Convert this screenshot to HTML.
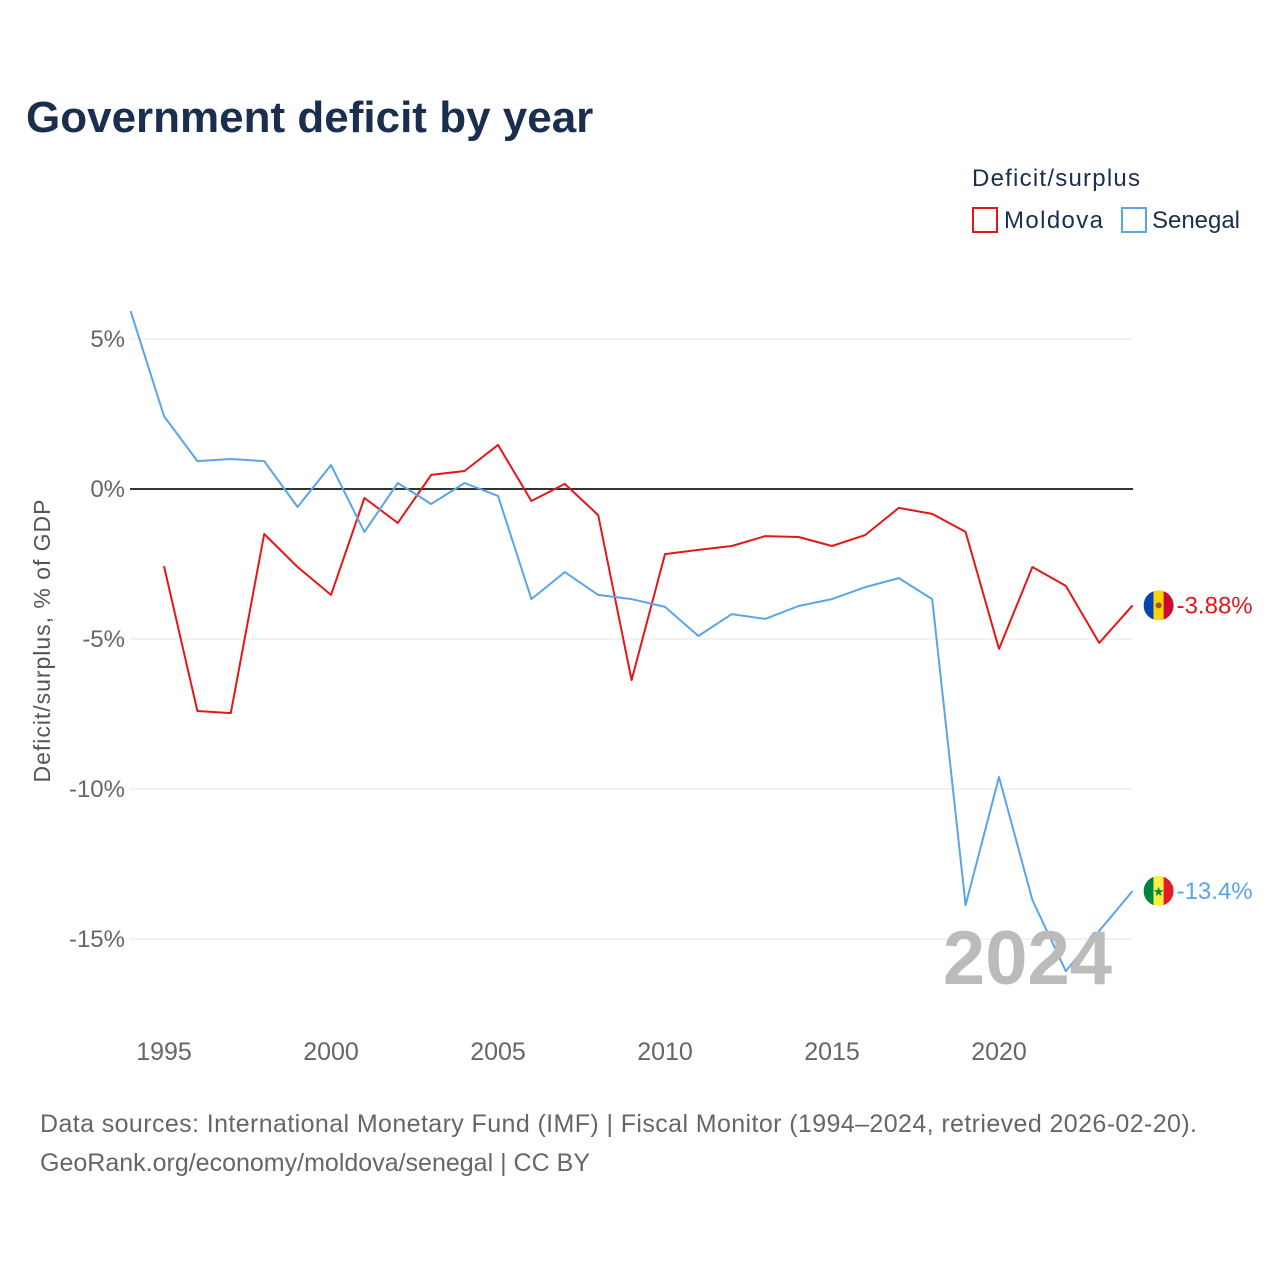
<!DOCTYPE html>
<html><head><meta charset="utf-8"><style>
body{margin:0;background:#fff;font-family:"Liberation Sans",sans-serif}
svg text{font-family:"Liberation Sans",sans-serif}
</style></head><body>
<svg id="chart" width="1280" height="1280">
<text x="26" y="132" font-size="44" font-weight="bold" fill="#1a2e4f">Government deficit by year</text>
<text x="972" y="186" font-size="24" fill="#1a2e4f" textLength="168">Deficit/surplus</text>
<g><rect x="973" y="208" width="24" height="24" fill="none" stroke="#e51616" stroke-width="2"/><text x="1004" y="228" font-size="24" fill="#1a2e4f" textLength="99">Moldova</text></g>
<g><rect x="1122" y="208" width="24" height="24" fill="none" stroke="#5aa5ea" stroke-width="2"/><text x="1152" y="228" font-size="24" fill="#1a2e4f" textLength="88">Senegal</text></g>
<text transform="translate(50,641) rotate(-90)" text-anchor="middle" font-size="23" fill="#555" textLength="283">Deficit/surplus, % of GDP</text>
<g id="grid"></g><g id="lines"></g>
<text x="1112" y="984" text-anchor="end" font-size="76" font-weight="bold" fill="#bbb">2024</text>
<text x="40" y="1132" font-size="25" fill="#666" textLength="1157">Data sources: International Monetary Fund (IMF) | Fiscal Monitor (1994–2024, retrieved 2026-02-20).</text>
<text x="40" y="1171" font-size="25" fill="#666" textLength="550">GeoRank.org/economy/moldova/senegal | CC BY</text>
</svg>
<script>
const yTicks=[5,0,-5,-10,-15];
const xTicks=[1995,2000,2005,2010,2015,2020];
const moldovaYears=[1995,1996,1997,1998,1999,2000,2001,2002,2003,2004,2005,2006,2007,2008,2009,2010,2011,2012,2013,2014,2015,2016,2017,2018,2019,2020,2021,2022,2023,2024];
const moldova=[-2.57,-7.4,-7.47,-1.5,-2.6,-3.53,-0.3,-1.13,0.47,0.6,1.47,-0.4,0.17,-0.87,-6.37,-2.17,-2.03,-1.9,-1.57,-1.6,-1.9,-1.53,-0.63,-0.83,-1.43,-5.33,-2.6,-3.23,-5.13,-3.88];
const senegalYears=[1994,1995,1996,1997,1998,1999,2000,2001,2002,2003,2004,2005,2006,2007,2008,2009,2010,2011,2012,2013,2014,2015,2016,2017,2018,2019,2020,2021,2022,2023,2024];
const senegal=[5.93,2.43,0.93,1.0,0.93,-0.6,0.8,-1.43,0.2,-0.5,0.2,-0.23,-3.67,-2.77,-3.53,-3.67,-3.93,-4.9,-4.17,-4.33,-3.9,-3.67,-3.27,-2.97,-3.67,-13.87,-9.6,-13.7,-16.07,-14.73,-13.4];
const X=y=>130.6+(y-1994)*33.4, Y=v=>489-v*30;
const NS='http://www.w3.org/2000/svg';
function mk(p,t,a){const e=document.createElementNS(NS,t);for(const k in a)e.setAttribute(k,a[k]);p.appendChild(e);return e;}
const g=document.getElementById('grid'), L=document.getElementById('lines');
yTicks.forEach(v=>{
 const l=mk(g,'line',{x1:130,x2:1133,y1:Y(v),y2:Y(v),stroke:v===0?'#333':'#e6e6e6','stroke-width':v===0?2:1});
 
 
 const t=mk(g,'text',{x:125,y:Y(v)+8,'text-anchor':'end','font-size':24,fill:'#666'});t.textContent=v+'%';
 
 
});
xTicks.forEach(y=>{
 const t=mk(g,'text',{x:X(y),y:1060,'text-anchor':'middle','font-size':25,fill:'#666'});t.textContent=y;
 
 
});
function series(yrs,vals,col,name){
 const p=mk(L,'polyline',{points:yrs.map((y,i)=>X(y)+','+Y(vals[i])).join(' '),fill:'none',stroke:col,'stroke-width':2,'stroke-linejoin':'round'});
 
 
 const v=vals[vals.length-1], cy=Y(v), cx=X(yrs[yrs.length-1])+25;
 const t=mk(L,'text',{x:cx+19,y:cy+8,'font-size':24,fill:col});t.textContent=(Math.abs(v)>=10?v.toFixed(1):v.toFixed(2))+'%';
 
 
 return [cx,cy];
}
function flag(cx,cy,cols,name,star){
 const gg=mk(L,'g',{});
 
 
 const id='c'+name;const cp=mk(gg,'clipPath',{id});mk(cp,'circle',{cx,cy,r:15});
 cols.forEach((c,i)=>mk(gg,'rect',{x:cx-15+i*10,y:cy-15,width:10,height:30,fill:c,'clip-path':'url(#'+id+')'}));
 if(star)mk(gg,'text',{x:cx,y:cy+5,'text-anchor':'middle','font-size':13,fill:'#00853f'}).textContent='★';
 else mk(gg,'circle',{cx,cy,r:3,fill:'#a0522d'});
}
let a=series(moldovaYears,moldova,'#e51616','moldova');flag(a[0]+1,a[1],['#0046ae','#ffd200','#cc092f'],'moldova',false);
let b=series(senegalYears,senegal,'#5aa5ea','senegal');flag(b[0]+1,b[1],['#00853f','#fdef42','#e31b23'],'senegal',true);
</script>
</body></html>
